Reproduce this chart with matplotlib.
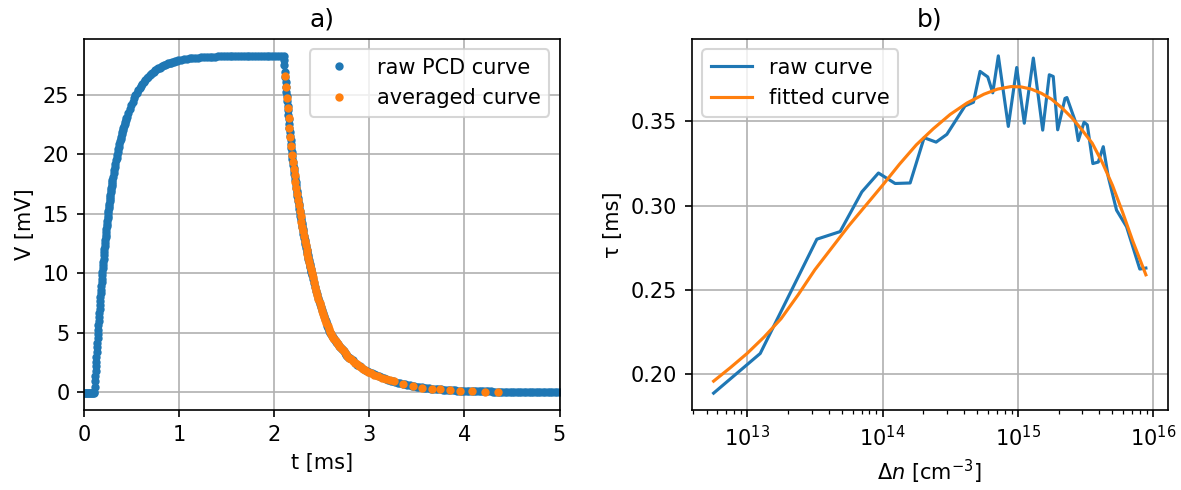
import numpy as np
import matplotlib
matplotlib.use("Agg")
import matplotlib.pyplot as plt

# ---------------- panel a) : raw PCD transient (blue dots) ----------------
# each segment: start time [ms], sampling step [ms], voltages [mV]
base_t0, base_dt = 0.00, 0.01
base_v = [-0.10, -0.10, -0.10, -0.10, -0.10, -0.10, -0.10, -0.10, -0.10, -0.10, -0.10]

rise1_t0, rise1_dt = 0.110, 0.003
rise1_v = [0.00, 0.44, 0.88, 1.31, 1.73, 2.15, 2.56, 2.96, 3.36, 3.75,
           4.14, 4.51, 4.89, 5.25, 5.61, 5.97, 6.32, 6.66, 7.00, 7.34,
           7.67, 7.99, 8.31, 8.62, 8.93, 9.23, 9.53, 9.83, 10.12, 10.40,
           10.68, 10.96, 11.23, 11.50, 11.76, 12.02, 12.27, 12.52, 12.77, 13.02,
           13.25, 13.49, 13.72, 13.95, 14.18, 14.40, 14.62, 14.83, 15.04, 15.25,
           15.45, 15.65, 15.85, 16.05, 16.24, 16.43, 16.61, 16.80, 16.98, 17.16,
           17.33, 17.50, 17.67, 17.84]

rise2_t0, rise2_dt = 0.306, 0.006
rise2_v = [18.14, 18.42, 18.70, 18.97, 19.23, 19.49, 19.74, 19.98, 20.21, 20.44,
           20.66, 20.88, 21.09, 21.29, 21.49, 21.68, 21.87, 22.05, 22.22, 22.39,
           22.56, 22.72, 22.88, 23.03, 23.18]

rise3_t0, rise3_dt = 0.465, 0.015
rise3_v = [23.53, 23.86, 24.17, 24.45, 24.72, 24.97, 25.20, 25.41, 25.61, 25.79,
           25.97, 26.13, 26.28, 26.42, 26.55, 26.67, 26.78, 26.89, 26.98, 27.07,
           27.16, 27.24, 27.31, 27.38, 27.44, 27.50, 27.56, 27.61, 27.66, 27.70,
           27.74, 27.78, 27.82, 27.85, 27.88, 27.91]

plat_t0, plat_dt = 1.02, 0.03
plat_v = [27.96, 28.01, 28.05, 28.08, 28.11, 28.13, 28.16, 28.18, 28.19, 28.21,
          28.22, 28.23, 28.24, 28.25, 28.25, 28.26, 28.26, 28.27, 28.27, 28.27,
          28.28, 28.28, 28.28, 28.28, 28.29, 28.29, 28.29, 28.29, 28.29, 28.29,
          28.30, 28.30, 28.30, 28.30, 28.30, 28.30]

dec1_t0, dec1_dt = 2.100, 0.004
dec1_v = [28.28, 27.95, 27.50, 26.95, 26.52, 26.10, 25.69, 25.28, 24.88, 24.48,
          24.09, 23.71, 23.33, 22.96, 22.60, 22.24, 21.89, 21.54, 21.20, 20.86,
          20.53, 20.21, 19.89, 19.63, 19.37, 19.11, 18.86, 18.61, 18.36, 18.12,
          17.88, 17.64, 17.41, 17.18, 16.95, 16.73, 16.51, 16.29, 16.07, 15.86,
          15.65, 15.44, 15.24, 15.04, 14.84, 14.64, 14.45, 14.26, 14.07, 13.88,
          13.70, 13.52, 13.34, 13.16, 12.99, 12.81, 12.64, 12.48, 12.31, 12.15,
          11.99, 11.83, 11.67, 11.52, 11.37, 11.22, 11.07, 10.92, 10.78, 10.63,
          10.49, 10.35, 10.22, 10.08, 9.95, 9.82]

dec2_t0, dec2_dt = 2.41, 0.01
dec2_v = [9.48, 9.14, 8.82, 8.51, 8.22, 7.93, 7.65, 7.38, 7.12, 6.87,
          6.63, 6.40, 6.17, 5.96, 5.75, 5.55, 5.35, 5.17, 4.98, 4.85,
          4.72, 4.59, 4.47, 4.35, 4.24, 4.12, 4.01, 3.91, 3.80, 3.70,
          3.60, 3.51, 3.41, 3.32, 3.23, 3.15, 3.06, 2.98, 2.90, 2.83]

dec3_t0, dec3_dt = 2.825, 0.025
dec3_v = [2.65, 2.47, 2.31, 2.16, 2.02, 1.89, 1.77, 1.66, 1.56, 1.47,
          1.39, 1.31, 1.24, 1.17, 1.10, 1.03, 0.96, 0.91, 0.85, 0.79,
          0.74, 0.69, 0.64, 0.60, 0.56, 0.52, 0.48, 0.45, 0.42, 0.38,
          0.35, 0.33, 0.30, 0.28, 0.26, 0.24, 0.22, 0.21, 0.19, 0.18,
          0.16, 0.15, 0.14, 0.13, 0.12, 0.11, 0.10, 0.09, 0.09, 0.08,
          0.07, 0.07, 0.06, 0.06, 0.05, 0.05, 0.04, 0.04, 0.04, 0.03,
          0.03, 0.03, 0.03, 0.02, 0.02, 0.02, 0.02, 0.02, 0.01, 0.01,
          0.01, 0.01, 0.01, 0.01, 0.00, 0.00, 0.00, 0.00, 0.00, 0.00,
          0.00, 0.00, 0.00, 0.00, 0.00, 0.00, 0.00, 0.00]

# ---------------- panel a) : averaged curve (orange dots) ----------------
avg_t = [2.115, 2.124, 2.133, 2.142, 2.151, 2.160, 2.169, 2.178, 2.187, 2.196,
         2.205, 2.214, 2.223, 2.232, 2.241, 2.250, 2.259, 2.268, 2.277, 2.286,
         2.295, 2.304, 2.313, 2.322, 2.331, 2.340, 2.349, 2.358, 2.367, 2.376,
         2.385, 2.394, 2.405, 2.417, 2.429, 2.441, 2.453, 2.465, 2.477, 2.489,
         2.501, 2.513, 2.525, 2.537, 2.549, 2.561, 2.573, 2.585, 2.597, 2.609,
         2.621, 2.633, 2.645, 2.657, 2.669, 2.681, 2.693, 2.710, 2.730, 2.750,
         2.770, 2.790, 2.810, 2.830, 2.850, 2.870, 2.890, 2.910, 2.935, 2.960,
         2.985, 3.015, 3.050, 3.090, 3.130, 3.175, 3.220, 3.264, 3.351, 3.456,
         3.555, 3.656, 3.747, 3.845, 3.957, 4.083, 4.212, 4.353]
avg_v = [26.60, 25.69, 24.78, 23.90, 23.05, 22.24, 21.45, 20.70, 19.97, 19.37,
         18.80, 18.24, 17.70, 17.18, 16.67, 16.18, 15.70, 15.24, 14.79, 14.35,
         13.93, 13.52, 13.12, 12.73, 12.35, 11.99, 11.63, 11.29, 10.96, 10.63,
         10.32, 10.02, 9.65, 9.24, 8.85, 8.48, 8.13, 7.79, 7.46, 7.15,
         6.85, 6.56, 6.28, 6.02, 5.77, 5.53, 5.30, 5.08, 4.89, 4.73,
         4.58, 4.43, 4.29, 4.16, 4.02, 3.90, 3.77, 3.60, 3.41, 3.23,
         3.06, 2.90, 2.76, 2.62, 2.47, 2.34, 2.22, 2.10, 1.97, 1.84,
         1.71, 1.58, 1.45, 1.31, 1.19, 1.08, 0.99, 0.90, 0.70, 0.52,
         0.37, 0.26, 0.24, 0.13, 0.12, 0.11, 0.02, 0.00]

# ---------------- panel b) : lifetime vs injection ----------------
raw_dn = [5.64e12, 1.247e13, 3.27e13, 4.86e13, 7.03e13, 9.33e13, 1.239e14, 1.600e14,
          2.03e14, 2.49e14, 2.99e14, 4.07e14, 4.70e14, 5.26e14, 6.00e14, 6.53e14,
          7.18e14, 8.51e14, 9.82e14, 1.117e15, 1.303e15, 1.528e15, 1.710e15, 1.828e15,
          1.972e15, 2.234e15, 2.307e15, 2.649e15, 2.799e15, 3.090e15, 3.266e15, 3.589e15,
          3.936e15, 4.285e15, 4.667e15, 5.370e15, 6.368e15, 7.980e15, 8.851e15]
raw_tau = [0.1889, 0.2124, 0.2801, 0.2846, 0.3081, 0.3193, 0.3131, 0.3134,
           0.3402, 0.3376, 0.3422, 0.3590, 0.3612, 0.3795, 0.3762, 0.3668,
           0.3887, 0.3469, 0.3818, 0.3488, 0.3874, 0.3447, 0.3775, 0.3765,
           0.3449, 0.3635, 0.3640, 0.3504, 0.3385, 0.3494, 0.3478, 0.3249,
           0.3258, 0.3349, 0.3170, 0.2973, 0.2875, 0.2624, 0.2630]

fit_dn = [5.64e12, 7.50e12, 1.0e13, 1.334e13, 1.778e13, 2.371e13, 3.162e13, 4.217e13,
          5.623e13, 7.499e13, 1.0e14, 1.334e14, 1.778e14, 2.371e14, 3.162e14, 4.217e14,
          5.623e14, 7.079e14, 8.913e14, 1.059e15, 1.259e15, 1.496e15, 1.778e15, 2.113e15,
          2.512e15, 2.985e15, 3.548e15, 4.217e15, 5.012e15, 5.957e15, 7.079e15, 8.851e15]
fit_tau = [0.1960, 0.2040, 0.2125, 0.2222, 0.2330, 0.2470, 0.2620, 0.2750,
           0.2880, 0.3000, 0.3120, 0.3245, 0.3360, 0.3455, 0.3540, 0.3608,
           0.3660, 0.3690, 0.3705, 0.3703, 0.3690, 0.3665, 0.3630, 0.3580,
           0.3520, 0.3448, 0.3370, 0.3255, 0.3120, 0.2960, 0.2790, 0.2590]

# ---------------- assemble raw PCD samples ----------------
segments = [(base_t0, base_dt, base_v), (rise1_t0, rise1_dt, rise1_v),
            (rise2_t0, rise2_dt, rise2_v), (rise3_t0, rise3_dt, rise3_v),
            (plat_t0, plat_dt, plat_v), (dec1_t0, dec1_dt, dec1_v),
            (dec2_t0, dec2_dt, dec2_v), (dec3_t0, dec3_dt, dec3_v)]
raw_t = np.concatenate([t0 + dt * np.arange(len(v)) for t0, dt, v in segments])
raw_v = np.concatenate([np.asarray(v, float) for _, _, v in segments])

DPI = 150
fig = plt.figure(figsize=(1181 / DPI, 490 / DPI), dpi=DPI)
ax1 = fig.add_axes([84 / 1181, 1 - 410 / 490, 475.5 / 1181, 371 / 490])
ax2 = fig.add_axes([692 / 1181, 1 - 410 / 490, 475.5 / 1181, 371 / 490])

ax1.plot(raw_t, raw_v, '.', color='C0', label='raw PCD curve')
ax1.plot(avg_t, avg_v, '.', color='C1', label='averaged curve')
ax1.set_xlim(0, 5)
ax1.set_xticks([0, 1, 2, 3, 4, 5])
ax1.set_yticks([0, 5, 10, 15, 20, 25])
ax1.grid(True)
ax1.set_xlabel('t [ms]')
ax1.set_ylabel('V [mV]')
ax1.set_title('a)')
ax1.legend(loc='upper right')

ax2.plot(raw_dn, raw_tau, color='C0', label='raw curve')
ax2.plot(fit_dn, fit_tau, color='C1', label='fitted curve')
ax2.set_xscale('log')
ax2.set_yticks([0.20, 0.25, 0.30, 0.35])
ax2.grid(True)
ax2.set_xlabel(r'$\Delta n$ [cm$^{-3}$]')
ax2.set_ylabel('τ [ms]')
ax2.set_title('b)')
ax2.legend(loc='upper left')

fig.savefig('out.png', dpi=DPI)
